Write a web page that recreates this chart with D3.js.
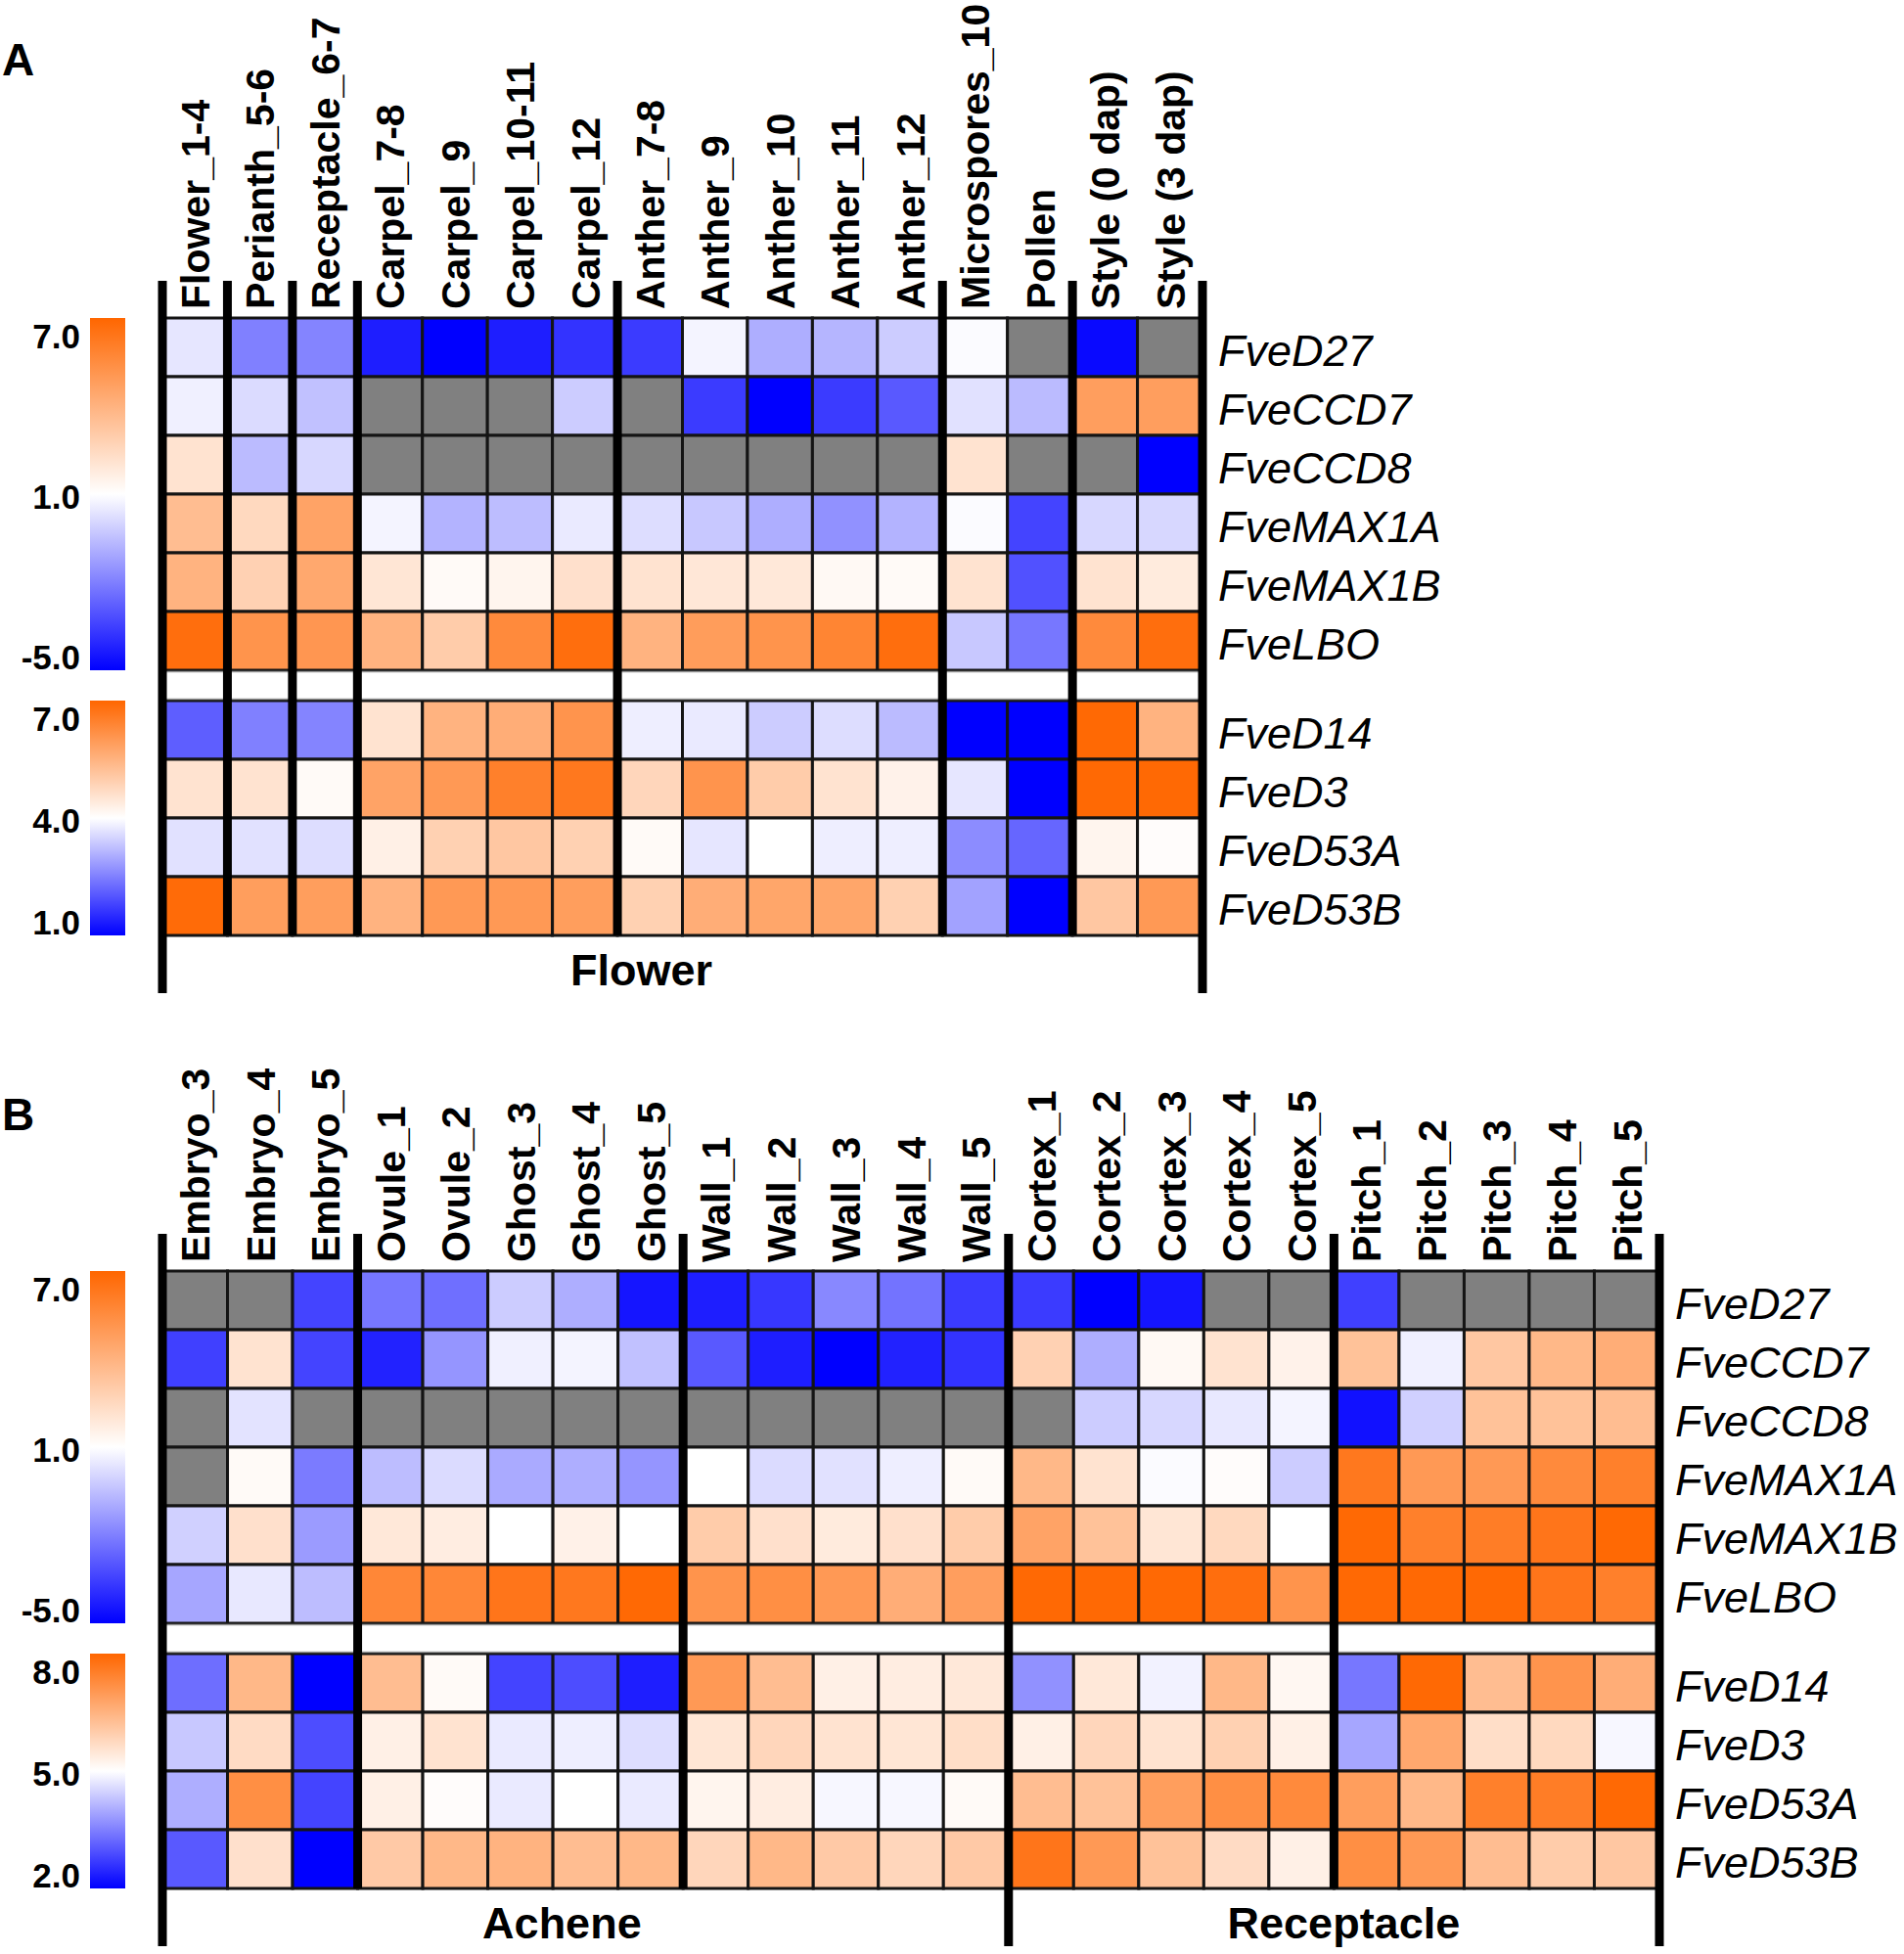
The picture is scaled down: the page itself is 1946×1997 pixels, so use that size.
<!DOCTYPE html>
<html><head><meta charset="utf-8">
<script src="https://cdn.jsdelivr.net/npm/d3@7"></script>
<style>body{margin:0;background:#fff}svg{display:block}</style>
</head><body><svg id="c" width="1946" height="1997"></svg>
<script>
// ---------------- DATA ----------------
const genesUpper = ["FveD27","FveCCD7","FveCCD8","FveMAX1A","FveMAX1B","FveLBO"];
const genesLower = ["FveD14","FveD3","FveD53A","FveD53B"];

const colsA = ["Flower_1-4","Perianth_5-6","Receptacle_6-7","Carpel_7-8","Carpel_9","Carpel_10-11","Carpel_12",
  "Anther_7-8","Anther_9","Anther_10","Anther_11","Anther_12","Microspores_10","Pollen","Style (0 dap)","Style (3 dap)"];
const groupSizesA = [1,1,1,4,5,2,2];
const sectionsA = [{label:"Flower", from:0, to:16}];

const colsB = ["Embryo_3","Embryo_4","Embryo_5","Ovule_1","Ovule_2","Ghost_3","Ghost_4","Ghost_5",
  "Wall_1","Wall_2","Wall_3","Wall_4","Wall_5","Cortex_1","Cortex_2","Cortex_3","Cortex_4","Cortex_5",
  "Pitch_1","Pitch_2","Pitch_3","Pitch_4","Pitch_5"];
const groupSizesB = [3,5,5,5,5];
const sectionsB = [{label:"Achene", from:0, to:13},{label:"Receptacle", from:13, to:23}];

const legendTicksAUpper = [7,1,-5];
const legendTicksALower = [7,4,1];
const legendTicksBUpper = [7,1,-5];
const legendTicksBLower = [8,5,2];

const valuesAUpper = [
  [0.4,-2,-1.9,-4.3,-5,-4.3,-3.8,-3.6,0.75,-0.9,-0.75,-0.2,0.9,null,-4.8,null],
  [0.65,0.15,-0.45,null,null,null,-0.2,null,-3.6,-5,-3.6,-2.9,0.3,-0.6,4.8,4.8],
  [2.1,-0.6,0.05,null,null,null,null,null,null,null,null,null,2.1,null,null,-5],
  [3.6,2.5,4.6,0.75,-0.8,-0.55,0.5,0.2,-0.3,-0.9,-1.6,-0.8,0.9,-3.4,0.05,0.05],
  [4.0,2.8,4.4,2.0,1.2,1.4,2.2,2.1,1.95,1.9,1.25,1.2,2.1,-3.1,2.1,1.8],
  [6.7,5.2,5.1,4.0,3.0,5.6,6.7,4.0,4.85,5.2,5.8,6.7,-0.3,-2.2,5.6,6.7]
];
const valuesALower = [
  [2.1,2.5,2.55,4.55,5.5,5.6,6.1,3.8,3.75,3.4,3.6,3.2,1.0,1.0,6.95,5.5],
  [4.55,4.55,4.1,5.8,6.0,6.5,6.65,4.8,6.1,5.0,4.55,4.25,3.7,1.0,6.95,6.95],
  [3.65,3.65,3.6,4.3,4.9,5.1,4.9,4.1,3.7,4.0,3.8,3.8,2.65,2.2,4.2,4.05],
  [6.9,5.9,5.9,5.5,6.0,6.0,5.9,4.9,5.6,5.75,5.75,4.9,2.9,1.0,5.1,6.0]
];
const valuesBUpper = [
  [null,null,-3.4,-2.2,-2.4,-0.2,-0.9,-4.5,-4.3,-3.7,-1.8,-2.3,-3.6,-3.6,-5,-4.5,null,null,-3.5,null,null,null,null],
  [-3.5,2.1,-3.4,-4.2,-1.5,0.65,0.75,-0.45,-2.9,-4.3,-5,-4.2,-3.8,2.8,-0.9,1.25,2.1,1.5,3.4,0.65,3.2,3.8,4.2],
  [null,0.35,null,null,null,null,null,null,null,null,null,null,null,null,-0.2,0.05,0.45,0.75,-4.6,-0.1,3.4,3.4,3.6],
  [null,1.2,-2.1,-0.55,0.15,-1.0,-0.9,-1.5,1.0,0.15,0.3,0.6,1.2,3.8,2.1,0.9,1.1,-0.2,6.3,5.0,5.0,5.6,6.0],
  [-0.1,2.2,-1.35,1.9,1.7,1.0,1.55,1.0,3.0,2.2,1.8,2.2,3.0,4.6,3.4,2.0,2.5,1.0,6.9,6.0,6.1,6.4,6.9],
  [-1.1,0.45,-0.55,5.7,5.7,6.4,6.3,6.9,5.2,5.4,5.0,4.2,4.8,6.9,6.9,6.9,6.7,5.2,6.9,6.9,6.9,6.4,6.0]
];
const valuesBLower = [
  [3.3,6.4,2.0,6.3,5.1,2.8,2.9,2.35,7.0,6.3,5.3,5.35,5.45,3.7,5.45,4.85,6.4,5.15,3.4,7.95,6.3,7.1,6.6],
  [4.35,5.7,2.9,5.3,5.55,4.75,4.8,4.6,5.5,5.8,5.55,5.5,5.65,5.3,5.8,5.55,5.9,5.3,3.95,6.7,5.65,5.75,4.9],
  [4.05,7.2,2.8,5.3,5.05,4.75,5.0,4.75,5.2,5.35,4.9,4.9,5.1,6.3,6.2,6.9,7.2,7.3,6.9,6.4,7.5,7.55,7.95],
  [3.05,5.6,2.0,6.05,6.4,6.5,6.3,6.4,5.8,6.4,6.05,5.8,6.05,7.7,7.0,6.2,5.7,5.3,7.2,7.0,6.3,6.0,6.1]
];

// ---------------- STYLE / LAYOUT ----------------
const FONT = "'Liberation Sans', Arial, Helvetica, sans-serif";
const BLUE = "#0000ff", WHITE = "#ffffff", ORANGE = "#ff6600", NA = "#808080";
const svg = d3.select("#c");
const defs = svg.append("defs");

function panel(cfg) {
  const g = svg.append("g");
  const x = d3.scaleBand().domain(cfg.cols).range([cfg.left, cfg.right]);
  const yU = d3.scaleBand().domain(genesUpper).range([cfg.topU, cfg.topU + 6 * cfg.rowH]);
  const lowTop = cfg.topU + 6 * cfg.rowH + cfg.gap;
  const yL = d3.scaleBand().domain(genesLower).range([lowTop, lowTop + 4 * cfg.rowH]);
  const bottom = lowTop + 4 * cfg.rowH;
  const cU = d3.scaleLinear().domain([cfg.domU[0], (cfg.domU[0]+cfg.domU[1])/2, cfg.domU[1]]).range([BLUE, WHITE, ORANGE]).clamp(true);
  const cL = d3.scaleLinear().domain([cfg.domL[0], (cfg.domL[0]+cfg.domL[1])/2, cfg.domL[1]]).range([BLUE, WHITE, ORANGE]).clamp(true);

  // cells
  function cells(vals, genes, y, col) {
    const data = [];
    genes.forEach((gname, i) => cfg.cols.forEach((c, j) => data.push({g: gname, c, v: vals[i][j]})));
    g.append("g").selectAll("rect").data(data).join("rect")
      .attr("x", d => x(d.c)).attr("y", d => y(d.g))
      .attr("width", x.bandwidth()).attr("height", y.bandwidth())
      .attr("fill", d => d.v == null ? NA : col(d.v))
      .attr("stroke", "#141414").attr("stroke-width", 3);
  }
  cells(cfg.valsU, genesUpper, yU, cU);
  cells(cfg.valsL, genesLower, yL, cL);

  // group boundaries
  const bounds = [0];
  cfg.groupSizes.reduce((a, s) => { bounds.push(a + s); return a + s; }, 0);
  // gap segments
  for (let k = 0; k < bounds.length - 1; k++) {
    const x0 = x(cfg.cols[bounds[k]]), x1 = x(cfg.cols[bounds[k+1]-1]) + x.bandwidth();
    g.append("rect").attr("x", x0).attr("y", yU(genesUpper[5]) + yU.bandwidth() + 1.5)
      .attr("width", x1 - x0).attr("height", cfg.gap - 3)
      .attr("fill", "#fff").attr("stroke", "#9a9a9a").attr("stroke-width", 1.5);
  }
  const xb = i => i >= cfg.cols.length ? cfg.right : x(cfg.cols[i]);
  const extended = new Set([0, cfg.cols.length]);
  cfg.sections.forEach(s => { extended.add(s.from); extended.add(s.to); });
  bounds.forEach(b => {
    g.append("line").attr("x1", xb(b)).attr("x2", xb(b))
      .attr("y1", cfg.lineTop).attr("y2", extended.has(b) ? cfg.lineBottom : bottom)
      .attr("stroke", "#000").attr("stroke-width", 9);
  });

  // column labels
  g.append("g").selectAll("text").data(cfg.cols).join("text")
    .attr("transform", c => `translate(${x(c) + x.bandwidth()/2},${cfg.topU - 9}) rotate(-90)`)
    .attr("dy", "0.36em").attr("font-family", FONT).attr("font-weight", "bold")
    .attr("font-size", 41).text(c => c);

  // row labels
  const rl = g.append("g").attr("font-family", FONT).attr("font-style", "italic").attr("font-size", 45);
  genesUpper.forEach(gn => rl.append("text").attr("x", cfg.right + 16).attr("y", yU(gn) + yU.bandwidth()/2).attr("dy", "0.42em").text(gn));
  genesLower.forEach(gn => rl.append("text").attr("x", cfg.right + 16).attr("y", yL(gn) + yL.bandwidth()/2).attr("dy", "0.42em").text(gn));

  // section labels
  cfg.sections.forEach((s, i) => {
    g.append("text").attr("x", xb(s.from) + (xb(s.to) - xb(s.from)) / 2 + cfg.sectionShift[i])
      .attr("y", cfg.sectionY).attr("text-anchor", "middle").attr("dy", "0.36em")
      .attr("font-family", FONT).attr("font-weight", "bold").attr("font-size", 45).text(s.label);
  });

  // panel letter
  g.append("text").attr("x", 2).attr("y", cfg.letterY).attr("font-family", FONT)
    .attr("font-weight", "bold").attr("font-size", 46).text(cfg.letter);

  // legends
  function legend(id, top, h, dom, ticks) {
    const grad = defs.append("linearGradient").attr("id", id).attr("x1", 0).attr("x2", 0).attr("y1", 0).attr("y2", 1);
    grad.append("stop").attr("offset", "0%").attr("stop-color", ORANGE);
    grad.append("stop").attr("offset", "50%").attr("stop-color", WHITE);
    grad.append("stop").attr("offset", "100%").attr("stop-color", BLUE);
    g.append("rect").attr("x", 92).attr("y", top).attr("width", 36).attr("height", h).attr("fill", `url(#${id})`);
    const ly = d3.scaleLinear().domain(dom).range([top + h - 14, top + 18]);
    g.append("g").selectAll("text").data(ticks).join("text")
      .attr("x", 82).attr("y", d => ly(d)).attr("dy", "0.36em").attr("text-anchor", "end")
      .attr("font-family", FONT).attr("font-weight", "bold").attr("font-size", 35)
      .text(d => d.toFixed(1));
  }
  legend(cfg.letter + "u", cfg.topU, 6 * cfg.rowH, cfg.domU, cfg.ticksU);
  legend(cfg.letter + "l", lowTop, 4 * cfg.rowH, cfg.domL, cfg.ticksL);
}

panel({letter:"A", letterY:77, cols:colsA, groupSizes:groupSizesA, sections:sectionsA, sectionShift:[-42],
  left:166, right:1229, topU:325, rowH:60, gap:31, lineTop:287, lineBottom:1015, sectionY:991,
  valsU:valuesAUpper, valsL:valuesALower, domU:[-5,7], domL:[1,7], ticksU:legendTicksAUpper, ticksL:legendTicksALower});

panel({letter:"B", letterY:1155, cols:colsB, groupSizes:groupSizesB, sections:sectionsB, sectionShift:[-24, 10],
  left:166, right:1696, topU:1299, rowH:60, gap:31, lineTop:1261, lineBottom:1989, sectionY:1965,
  valsU:valuesBUpper, valsL:valuesBLower, domU:[-5,7], domL:[2,8], ticksU:legendTicksBUpper, ticksL:legendTicksBLower});
</script></body></html>
